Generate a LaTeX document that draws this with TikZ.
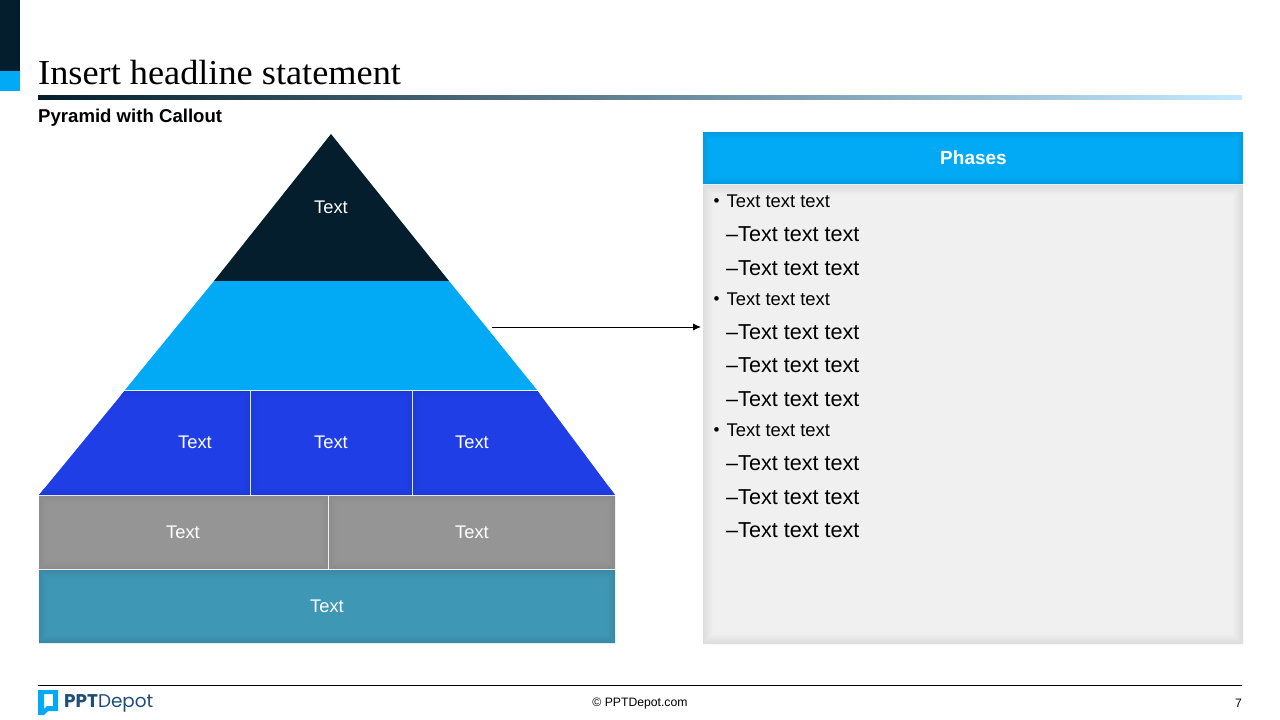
\documentclass[tikz,border=0pt]{standalone}
\usepackage{fontspec}
\setmainfont{Liberation Sans}
\newfontfamily\titlefont[FakeStretch=1.037]{Liberation Serif}
\newfontfamily\logofont{Poppins}
\usetikzlibrary{arrows.meta,shadings}
\definecolor{navy}{HTML}{041E2E}
\definecolor{sky}{HTML}{02A9F4}
\definecolor{royal}{HTML}{1F3EE6}
\definecolor{graybar}{HTML}{959595}
\definecolor{teal}{HTML}{3F97B6}
\definecolor{panel}{HTML}{F0F0F0}
\definecolor{logoblue}{HTML}{1F4E79}
\definecolor{rulemid}{HTML}{3F86B4}
\definecolor{ruleend}{HTML}{C5EAFF}
\tikzset{
  x=1pt,y=-1pt,
  lab/.style={text=white,font=\fontsize{18.3}{20}\selectfont,inner sep=0pt,anchor=center},
  bul/.style={text=black,font=\fontsize{18.4}{20}\selectfont,inner sep=0pt,anchor=west},
  sub/.style={text=black,font=\fontsize{21.6}{23}\selectfont,inner sep=0pt,anchor=west},
}
% soft inner edge: x1 y1 x2 y2 base edge width
\newcommand{\inset}[7]{%
  \fill[#5] (#1,#2) rectangle (#3,#4);
  \colorlet{insE}{#6}%
  \foreach \i in {1,...,#7}{%
    \pgfmathsetmacro{\amt}{100*(\i-1)/#7}%
    \fill[#5!\amt!insE,even odd rule]
      (#1+\i-1,#2+\i-1) rectangle (#3-\i+1,#4-\i+1)
      (#1+\i,#2+\i) rectangle (#3-\i,#4-\i);
  }}
\begin{document}
\begin{tikzpicture}
\useasboundingbox (0,0) rectangle (1280,720);
\fill[white] (0,0) rectangle (1280,720);
% corner marks
\fill[navy] (0,0) rectangle (20,71);
\fill[sky] (0,71) rectangle (20,91);
% title
\node[anchor=base west,inner sep=0pt,font=\titlefont\fontsize{35}{38}\selectfont,text=black] (title) at (38,84) {Insert headline statement};
\shade[left color=navy,middle color=rulemid,right color=ruleend] (38,95) rectangle (1242,99);
\node[anchor=base west,inner sep=0pt,font=\bfseries\fontsize{18.6}{20}\selectfont] (sub) at (38,122) {Pyramid with Callout};
% pyramid
\fill[navy] (331,134) -- (449,281) -- (214,281) -- cycle;
\fill[sky] (214,281) -- (449,281) -- (537,390) -- (125,390) -- cycle;
\begin{scope}
  \clip (124.5,391) -- (537.5,391) -- (615,495) -- (39,495) -- cycle;
  \inset{39}{391}{250}{495}{royal}{royal!94!black}{6}
  \inset{251}{391}{412}{495}{royal}{royal!94!black}{6}
  \inset{413}{391}{615}{495}{royal}{royal!94!black}{6}
\end{scope}
\inset{39}{496}{328}{569}{graybar}{graybar!94!black}{8}
\inset{329}{496}{615}{569}{graybar}{graybar!94!black}{8}
\inset{39}{570}{615}{643}{teal}{teal!91!black}{8}
\node[lab] (t1) at (331,207.6) {Text};
\node[lab] (t2) at (195,442.6) {Text};
\node[lab] (t3) at (331,442.6) {Text};
\node[lab] (t4) at (472,442.6) {Text};
\node[lab] (t5) at (183,532.6) {Text};
\node[lab] (t6) at (472,532.6) {Text};
\node[lab] (t7) at (327,606.6) {Text};
% panel
\inset{703}{132}{1243}{184}{sky}{sky!92!black}{6}
\inset{703}{185}{1243}{644}{panel}{panel!92!black}{10}
\node[text=white,inner sep=0pt,font=\bfseries\fontsize{19}{21}\selectfont] (phases) at (973.5,158) {Phases};
% arrow
\coordinate (arrowfrom) at (492,327);
\coordinate (arrowto) at (701,327);
\draw[black,line width=0.8pt,-{Latex[length=8pt,width=7pt]}] (arrowfrom) -- (arrowto);
% list
\foreach \y/\n in {201.5/a,299.5/b,430.5/c}{
  \node[text=black,inner sep=0pt,font=\fontsize{17}{18}\selectfont] (d\n) at (716.7,\y+1.5) {•};
  \node[bul] (b\n) at (726.5,\y) {Text text text};
}
\foreach \y/\n in {234.5/a,268.5/b,332.5/c,365.5/d,399.5/e,463.5/f,497.5/g,530.5/h}{
  \node[sub] (s\n) at (726,\y) {–Text text text};
}
% footer
\draw[black,line width=1pt] (38,685.5) -- (1242,685.5);
\node[inner sep=0pt,font=\fontsize{12.2}{14}\selectfont] (copy) at (640,703.5) {© PPTDepot.com};
\node[anchor=east,inner sep=0pt,font=\fontsize{12.2}{14}\selectfont] (page) at (1242,703.5) {7};
% logo
\fill[sky,even odd rule] (38,690) -- (58,690) -- (58,711) -- (48,711) -- (44,715) -- (38,715) -- cycle
  (44,694) -- (44,709) -- (47,706) -- (53,706) -- (53,694) -- cycle;
\node[anchor=base west,inner sep=0pt,font=\logofont\fontsize{18.4}{19}\selectfont,text=logoblue] (logo) at (64,707.5) {\textbf{PPT}Depot};
\end{tikzpicture}
\end{document}
